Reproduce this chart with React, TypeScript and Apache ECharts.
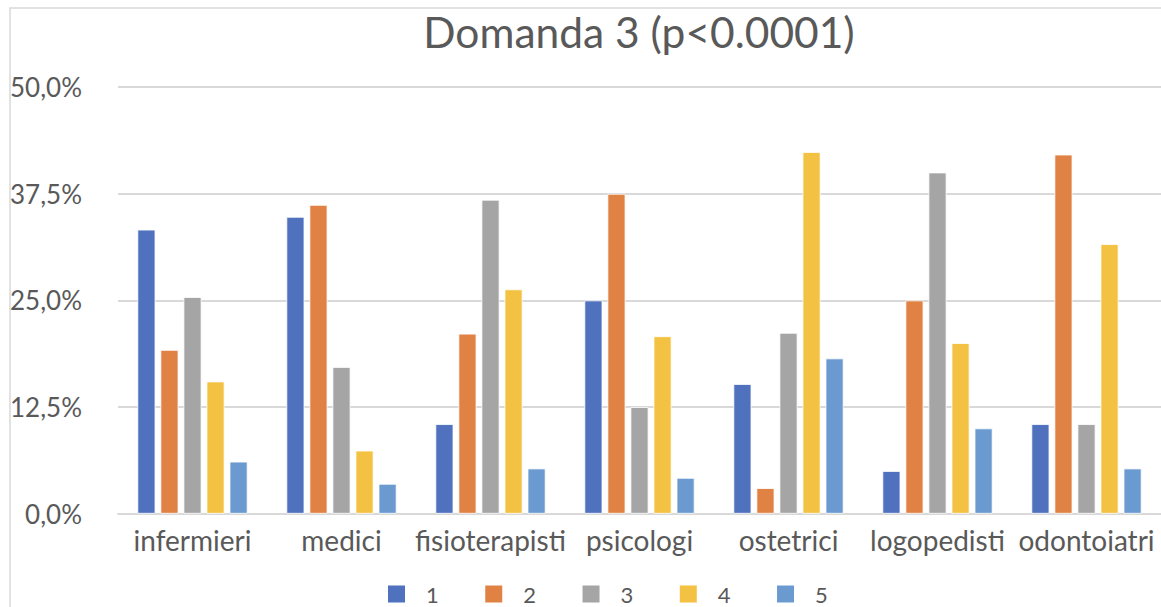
import React, { useEffect, useRef } from "react";
import * as echarts from "echarts";

const categories = ["infermieri", "medici", "fisioterapisti", "psicologi", "ostetrici", "logopedisti", "odontoiatri"];
const seriesNames = ["1", "2", "3", "4", "5"];
const s1 = [33.3, 34.8, 10.5, 25.0, 15.2, 5.0, 10.5];
const s2 = [19.2, 36.2, 21.1, 37.5, 3.0, 25.0, 42.1];
const s3 = [25.4, 17.2, 36.8, 12.5, 21.2, 40.0, 10.5];
const s4 = [15.5, 7.4, 26.3, 20.8, 42.4, 20.0, 31.6];
const s5 = [6.1, 3.5, 5.3, 4.2, 18.2, 10.0, 5.3];
const seriesValues = [s1, s2, s3, s4, s5];
const colors = ["#4F71BE", "#E08244", "#A5A5A5", "#F4C242", "#6A9AD0"];
const title = "Domanda 3 (p<0.0001)";

const FONT = "Lato, 'Noto Sans', sans-serif";
const TEXT = "#595959";
const GRIDC = "#D9D9D9";

export default function App() {
  const ref = useRef<HTMLDivElement>(null);
  useEffect(() => {
    if (!ref.current) return;
    const chart = echarts.init(ref.current, undefined, { renderer: "svg" });
    chart.setOption({
      animation: false,
      backgroundColor: "#ffffff",
      color: colors,
      title: {
        text: title,
        left: 634,
        textAlign: "center",
        top: 5,
        textStyle: { fontFamily: FONT, fontSize: 42.5, fontWeight: "normal", color: TEXT },
      },
      graphic: [
        {
          type: "rect",
          shape: { x: 10, y: 8, width: 1300, height: 1000 },
          style: { fill: "none", stroke: GRIDC, lineWidth: 1.5 },
          silent: true,
        },
      ],
      legend: {
        data: seriesNames,
        left: 386,
        top: 583,
        padding: 0,
        itemWidth: 19,
        itemHeight: 19,
        itemGap: 44.5,
        icon: "rect",
        textStyle: { fontFamily: FONT, fontSize: 22, lineHeight: 22, color: TEXT, padding: [0, 0, 0, 15] },
      },
      grid: { left: 118, width: 1046, top: 87.2, height: 426.5, containLabel: false },
      xAxis: {
        type: "category",
        data: categories,
        axisTick: { show: false },
        axisLine: { lineStyle: { color: GRIDC, width: 2 } },
        axisLabel: { fontFamily: FONT, fontSize: 28, color: TEXT, margin: 12, interval: 0 },
      },
      yAxis: {
        type: "value",
        min: 0,
        max: 50,
        interval: 12.5,
        axisLine: { show: false },
        axisTick: { show: false },
        splitLine: { lineStyle: { color: GRIDC, width: 2 } },
        axisLabel: {
          fontFamily: FONT,
          fontSize: 26,
          color: TEXT,
          margin: 36,
          formatter: (v: number) => v.toFixed(1).replace(".", ",") + "%",
        },
      },
      series: seriesNames.map((name, i) => ({
        name,
        type: "bar",
        data: seriesValues[i],
        barWidth: 18,
        barGap: "28%",
        itemStyle: { color: colors[i], borderColor: "#ffffff", borderWidth: 0.8 },
      })),
    });
    return () => chart.dispose();
  }, []);
  return <div ref={ref} style={{ position: "fixed", left: 0, top: 0, width: 1161, height: 607 }} />;
}
